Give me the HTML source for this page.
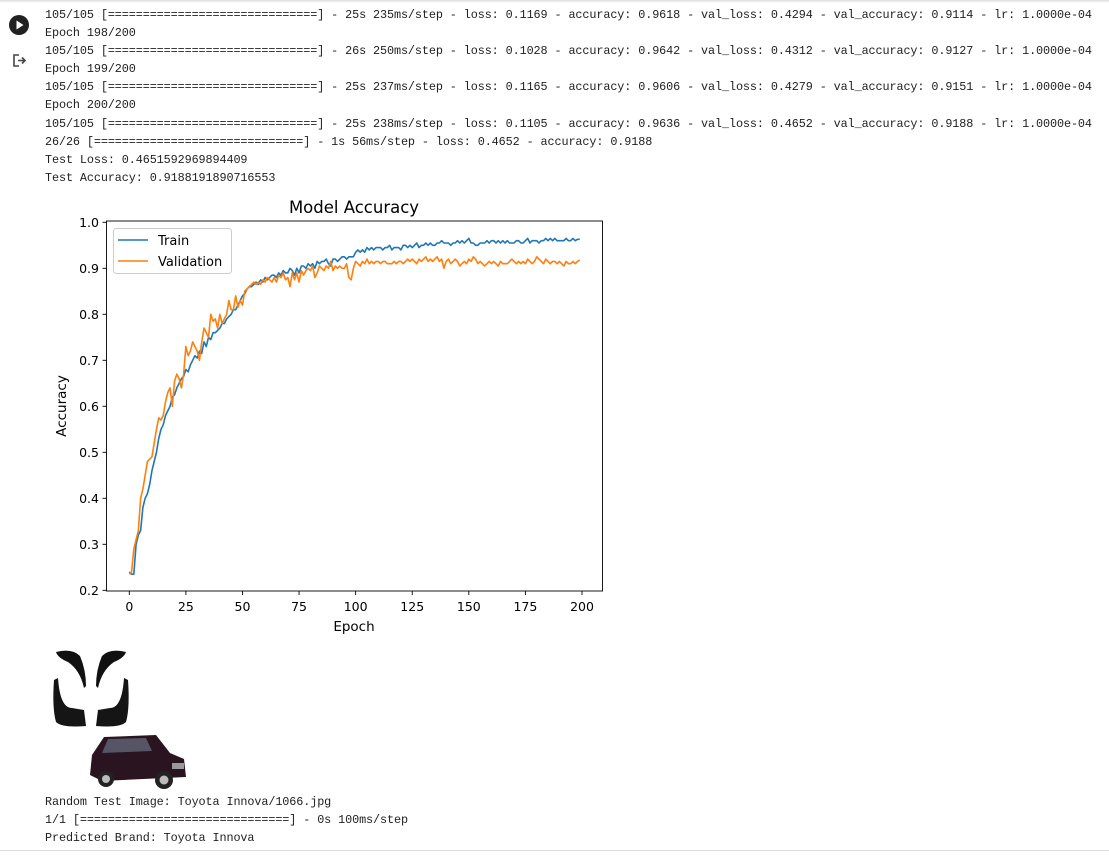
<!DOCTYPE html>
<html><head><meta charset="utf-8">
<style>
html,body{margin:0;padding:0;background:#fff;width:1109px;height:855px;overflow:hidden;position:relative;}
.con{position:absolute;left:45px;font-family:"Liberation Mono","DejaVu Sans Mono",monospace;font-size:11.8px;color:#212121;white-space:pre;line-height:18.1px;letter-spacing:-0.1px;}
#topshadow{position:absolute;left:0;top:0;width:1109px;height:3px;background:linear-gradient(#ddd,#fff);}
#bottomline{position:absolute;left:0;top:850px;width:1109px;height:1px;background:#ddd;}
svg text{font-family:"DejaVu Sans","Liberation Sans",sans-serif;}
</style></head><body>
<div id="topshadow"></div>
<svg style="position:absolute;left:9px;top:15px" width="22" height="22"><circle cx="10" cy="10" r="10" fill="#212121"/><polygon points="7.5,5.5 7.5,14.5 14.5,10" fill="#fff"/></svg>
<svg style="position:absolute;left:12px;top:53px" width="18" height="16"><path d="M7 2H2v11h5" stroke="#444" stroke-width="1.6" fill="none"/><path d="M6 7.5h7M10 4.5l3 3-3 3" stroke="#444" stroke-width="1.6" fill="none"/></svg>
<div class="con" style="top:6px">105/105 [==============================] - 25s 235ms/step - loss: 0.1169 - accuracy: 0.9618 - val_loss: 0.4294 - val_accuracy: 0.9114 - lr: 1.0000e-04
Epoch 198/200
105/105 [==============================] - 26s 250ms/step - loss: 0.1028 - accuracy: 0.9642 - val_loss: 0.4312 - val_accuracy: 0.9127 - lr: 1.0000e-04
Epoch 199/200
105/105 [==============================] - 25s 237ms/step - loss: 0.1165 - accuracy: 0.9606 - val_loss: 0.4279 - val_accuracy: 0.9151 - lr: 1.0000e-04
Epoch 200/200
105/105 [==============================] - 25s 238ms/step - loss: 0.1105 - accuracy: 0.9636 - val_loss: 0.4652 - val_accuracy: 0.9188 - lr: 1.0000e-04
26/26 [==============================] - 1s 56ms/step - loss: 0.4652 - accuracy: 0.9188
Test Loss: 0.4651592969894409
Test Accuracy: 0.9188191890716553</div>

<svg id="chart" style="position:absolute;left:0;top:0" width="1109" height="640"></svg>

<svg style="position:absolute;left:50px;top:648px" width="82" height="82">
<path d="M6 4 Q22 0 30 8 Q36 22 36 38 L34 40 Q30 22 18 14 Q8 10 6 4Z" fill="#111"/>
<path d="M76 4 Q60 0 52 8 Q46 22 46 38 L48 40 Q52 22 64 14 Q74 10 76 4Z" fill="#111"/>
<path d="M4 32 L8 30 Q10 60 22 60 L34 62 L36 78 Q12 80 6 74 Q2 60 4 32Z" fill="#151515"/>
<path d="M78 32 L74 30 Q72 60 60 60 L48 62 L46 78 Q70 80 76 74 Q80 60 78 32Z" fill="#151515"/>
</svg>
<svg style="position:absolute;left:86px;top:733px" width="104" height="60">
<path d="M6 22 L18 4 L70 2 L84 20 L98 26 L100 44 L16 48 L4 42Z" fill="#2a1420"/>
<path d="M22 6 L60 5 L66 18 L16 20Z" fill="#556"/>
<circle cx="20" cy="46" r="8" fill="#222"/><circle cx="20" cy="46" r="4" fill="#bbb"/>
<circle cx="78" cy="47" r="9" fill="#222"/><circle cx="78" cy="47" r="4.5" fill="#bbb"/>
<rect x="86" y="30" width="12" height="6" fill="#999"/>
</svg>
<div class="con" style="top:793px">Random Test Image: Toyota Innova/1066.jpg
1/1 [==============================] - 0s 100ms/step
Predicted Brand: Toyota Innova</div>
<div id="bottomline"></div>

<script>
const xTicks=[0,25,50,75,100,125,150,175,200];
const yTicks=[0.2,0.3,0.4,0.5,0.6,0.7,0.8,0.9,1.0];
const yTickLabels=["0.2","0.3","0.4","0.5","0.6","0.7","0.8","0.9","1.0"];
const trainAcc=[.24,.235,.235,.30,.32,.33,.38,.40,.41,.43,
.46,.48,.50,.53,.55,.56,.58,.59,.60,.62,
.625,.64,.65,.66,.665,.68,.675,.69,.70,.71,
.705,.72,.715,.74,.73,.75,.745,.76,.76,.765,
.77,.78,.78,.79,.795,.80,.81,.81,.82,.83,
.84,.845,.855,.86,.86,.865,.87,.865,.875,.87,
.88,.875,.88,.885,.885,.88,.89,.885,.895,.89,
.89,.90,.895,.885,.90,.89,.905,.905,.90,.91,
.905,.91,.90,.915,.91,.915,.915,.92,.91,.905,
.92,.92,.915,.92,.925,.925,.92,.925,.925,.925,
.935,.94,.935,.94,.935,.945,.94,.945,.94,.945,
.945,.945,.94,.945,.945,.95,.94,.945,.945,.945,
.94,.95,.95,.945,.95,.945,.95,.955,.945,.95,
.95,.955,.95,.955,.95,.95,.955,.955,.96,.955,
.955,.955,.95,.955,.955,.96,.955,.96,.955,.96,
.965,.955,.955,.95,.95,.955,.955,.955,.96,.955,
.96,.96,.955,.96,.955,.96,.955,.96,.955,.955,
.955,.96,.96,.955,.955,.96,.965,.955,.96,.96,
.96,.955,.96,.96,.965,.96,.965,.96,.965,.96,
.96,.96,.96,.965,.96,.96,.965,.96,.963,.963];
const valAcc=[.235,.24,.29,.31,.33,.40,.42,.45,.48,.485,
.49,.52,.55,.575,.57,.58,.61,.63,.64,.60,
.655,.67,.66,.64,.67,.73,.71,.72,.74,.73,
.72,.70,.74,.77,.76,.75,.80,.785,.79,.77,
.80,.78,.79,.80,.83,.81,.81,.84,.815,.83,
.82,.85,.855,.86,.865,.87,.865,.87,.865,.875,
.87,.88,.875,.87,.88,.87,.885,.88,.89,.875,
.88,.86,.89,.875,.89,.87,.895,.885,.895,.90,
.895,.905,.88,.89,.905,.90,.895,.905,.90,.915,
.895,.905,.90,.905,.90,.90,.91,.88,.875,.90,
.915,.91,.905,.915,.91,.92,.91,.915,.91,.915,
.915,.91,.915,.915,.91,.91,.91,.915,.91,.915,
.915,.91,.915,.92,.915,.92,.915,.91,.92,.915,
.92,.925,.915,.92,.915,.92,.925,.915,.92,.90,
.915,.92,.91,.915,.92,.915,.905,.91,.915,.91,
.92,.915,.925,.92,.91,.915,.91,.905,.91,.915,
.91,.915,.91,.905,.915,.91,.91,.91,.915,.92,
.915,.91,.915,.91,.915,.91,.92,.915,.91,.915,
.925,.92,.915,.91,.92,.915,.91,.915,.915,.91,
.915,.91,.905,.915,.91,.91,.915,.91,.915,.918];

const NS="http://www.w3.org/2000/svg";
const svg=document.getElementById('chart');
const L=106.5,R=602.5,T=221,B=591;
function xs(v){return 129.3+v*(582-129.3)/200;}
function ys(v){return 590.3-(v-0.2)*(590.3-222.3)/0.8;}
function mk(tag,attrs,parent){const e=document.createElementNS(NS,tag);for(const k in attrs)e.setAttribute(k,attrs[k]);(parent||svg).appendChild(e);return e;}

const t=mk('text',{x:354,y:213,'text-anchor':'middle','font-size':'16.5',fill:'#000'});
t.textContent='Model Accuracy';



function line(data,color,name){
  let d='';data.forEach((v,i)=>{d+=(i?'L':'M')+xs(i).toFixed(2)+' '+ys(v).toFixed(2);});
  const p=mk('path',{d:d,fill:'none',stroke:color,'stroke-width':'1.6','stroke-linejoin':'round'});
  
  
}
line(trainAcc,'#1f77b4','train-line');
line(valAcc,'#ff7f0e','validation-line');

const frame=mk('rect',{x:L,y:T,width:R-L,height:B-T,fill:'none',stroke:'#000','stroke-width':'0.9'});



xTicks.forEach(v=>{
  const tk=mk('line',{x1:xs(v),x2:xs(v),y1:B,y2:B+4,stroke:'#000','stroke-width':'0.9'});
  
  
  const lb=mk('text',{x:xs(v),y:611,'text-anchor':'middle','font-size':'12.5',fill:'#000'});
  lb.textContent=String(v);
  
  
});
yTicks.forEach((v,i)=>{
  const tk=mk('line',{x1:L-4,x2:L,y1:ys(v),y2:ys(v),stroke:'#000','stroke-width':'0.9'});
  
  
  const lb=mk('text',{x:99,y:ys(v)+4.5,'text-anchor':'end','font-size':'12.5',fill:'#000'});
  lb.textContent=yTickLabels[i];
  
  
});
const xl=mk('text',{x:354,y:631,'text-anchor':'middle','font-size':'13.5',fill:'#000'});
xl.textContent='Epoch';


const yl=mk('text',{x:0,y:0,'text-anchor':'middle','font-size':'13.5',fill:'#000',transform:'translate(66,406) rotate(-90)'});
yl.textContent='Accuracy';



const lg=mk('g',{});


mk('rect',{x:113.5,y:228.5,width:118,height:45,rx:3,fill:'#fff','fill-opacity':'0.8',stroke:'#ccc'},lg);
const e1=mk('g',{},lg);


mk('line',{x1:118,x2:148,y1:240,y2:240,stroke:'#1f77b4','stroke-width':'1.6'},e1);
const tx1=mk('text',{x:158,y:245,'font-size':'13',fill:'#000'},e1);tx1.textContent='Train';
const e2=mk('g',{},lg);


mk('line',{x1:118,x2:148,y1:261,y2:261,stroke:'#ff7f0e','stroke-width':'1.6'},e2);
const tx2=mk('text',{x:158,y:266,'font-size':'13',fill:'#000'},e2);tx2.textContent='Validation';
</script>
</body></html>
